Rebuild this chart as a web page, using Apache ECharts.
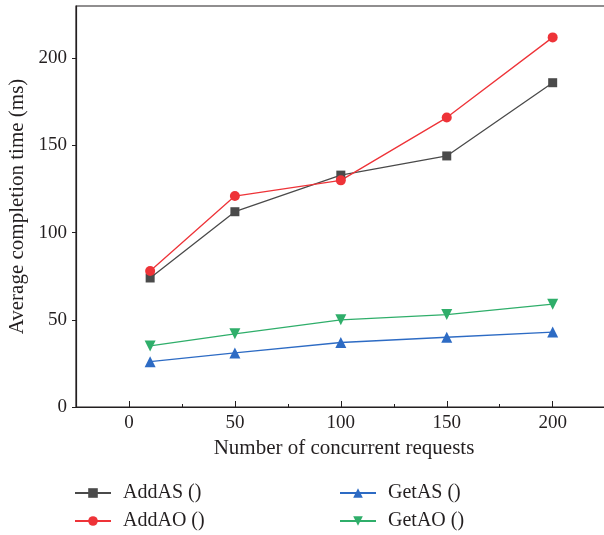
<!DOCTYPE html>
<html>
<head>
<meta charset="utf-8">
<script src="https://cdn.jsdelivr.net/npm/echarts@6/dist/echarts.min.js"></script>
<style>
  html, body { margin: 0; padding: 0; background: #fff; }
  #chart { width: 604px; height: 535px; }
</style>
</head>
<body>
<div id="chart"></div>
<script>
// concurrency levels (x) and completion times (ms)
const requests = [10, 50, 100, 150, 200]
const addAS = [74, 112, 133, 144, 186]
const addAO = [78, 121, 130, 166, 212]
const getAS = [26, 31, 37, 40, 43]
const getAO = [35, 42, 50, 53, 59]

const seriesNames = ['AddAS ()', 'AddAO ()', 'GetAS ()', 'GetAO ()']
const xMajorTicks = [0, 50, 100, 150, 200]
const xMinorTicks = [25, 75, 125, 175]
const yTicks = [0, 50, 100, 150, 200]

const font = '"Liberation Serif", "DejaVu Serif", serif'
const ink = '#231f20'

const pairs = (ys) => requests.map((x, i) => [x, ys[i]])

const chart = echarts.init(document.getElementById('chart'))

const lineSeries = (name, ys, color, symbol, size, rotate) => ({
  name,
  type: 'line',
  data: pairs(ys),
  symbol,
  symbolSize: size,
  symbolRotate: rotate || 0,
  showSymbol: true,
  lineStyle: { color, width: 1.3 },
  itemStyle: { color },
  emphasis: { disabled: true },
  animation: false,
})

// one legend per entry so each can sit in its own slot
const legendAt = (name, left, top) => ({
  orient: 'vertical',
  left,
  top,
  padding: 0,
  itemWidth: 36,
  itemHeight: 12,
  textStyle: { fontFamily: font, fontSize: 20, color: ink, padding: [0, 0, 0, 7] },
  data: [name],
})

const option = {
  backgroundColor: '#fff',
  textStyle: { fontFamily: font },
  grid: {
    left: 76,
    top: 6,
    width: 536,
    height: 401,
    outerBoundsMode: 'none',
    show: true,
    borderColor: ink,
    borderWidth: 1.2,
  },
  xAxis: [
    {
      type: 'value',
      min: -25,
      max: 228,
      interval: 25,
      name: 'Number of concurrent requests',
      nameLocation: 'middle',
      nameGap: 25,
      nameTextStyle: { fontFamily: font, fontSize: 21, color: ink },
      axisLine: { onZero: false, lineStyle: { color: ink, width: 1.2 } },
      axisTick: {
        inside: true,
        length: 6,
        customValues: xMajorTicks,
        lineStyle: { color: ink },
      },
      axisLabel: {
        customValues: xMajorTicks,
        fontFamily: font,
        fontSize: 19,
        color: ink,
        margin: 7,
      },
      splitLine: { show: false },
    },
    {
      type: 'value',
      min: -25,
      max: 228,
      interval: 25,
      position: 'bottom',
      axisLine: { show: false, onZero: false },
      axisTick: {
        inside: true,
        length: 3,
        customValues: xMinorTicks,
        lineStyle: { color: ink },
      },
      axisLabel: { show: false },
      splitLine: { show: false },
    },
  ],
  yAxis: {
    type: 'value',
    min: 0,
    max: 230,
    interval: 50,
    name: 'Average completion time (ms)',
    nameLocation: 'middle',
    nameRotate: 90,
    nameGap: 48,
    nameTextStyle: { fontFamily: font, fontSize: 21, color: ink },
    axisLine: { show: true, onZero: false, lineStyle: { color: ink, width: 1.2 } },
    axisTick: { show: true, length: 4, customValues: yTicks, lineStyle: { color: ink } },
    axisLabel: { customValues: yTicks, fontFamily: font, fontSize: 19, color: ink, margin: 9 },
    splitLine: { show: false },
  },
  legend: [
    legendAt(seriesNames[0], 74, 483),
    legendAt(seriesNames[1], 74, 511),
    legendAt(seriesNames[2], 339, 483),
    legendAt(seriesNames[3], 339, 511),
  ],
  series: [
    lineSeries(seriesNames[0], addAS, '#4a4a4a', 'rect', 9),
    lineSeries(seriesNames[1], addAO, '#ee3338', 'circle', 10),
    lineSeries(seriesNames[2], getAS, '#2d6bc4', 'triangle', 11),
    lineSeries(seriesNames[3], getAO, '#2fae6a', 'triangle', 11, 180),
  ],
}

chart.setOption(option)
</script>
</body>
</html>
